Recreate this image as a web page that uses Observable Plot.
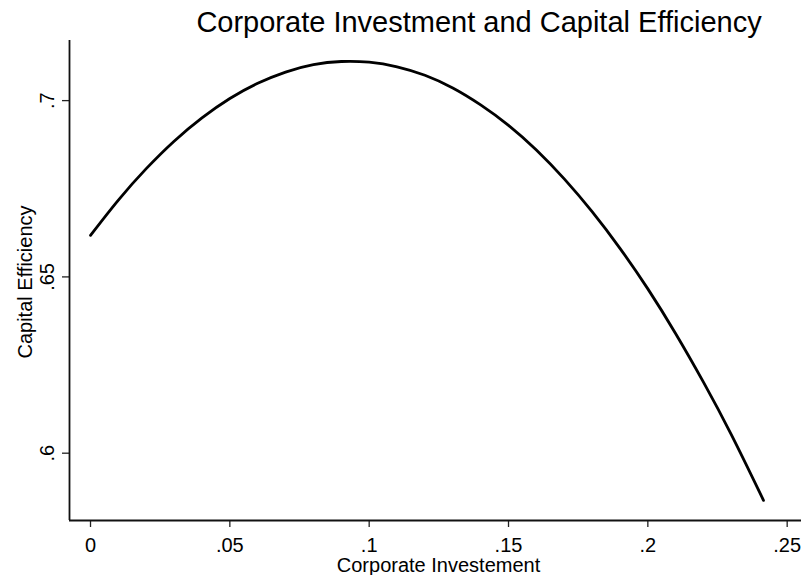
<!DOCTYPE html>
<html>
<head>
<meta charset="utf-8">
<script src="https://cdn.jsdelivr.net/npm/d3@7"></script>
<script src="https://cdn.jsdelivr.net/npm/@observablehq/plot@0.6"></script>
<style>
  html, body { margin: 0; padding: 0; background: #fff; }
  svg { display: block; }
</style>
</head>
<body>
<div id="chart"></div>
<script>
const chartTitle = "Corporate Investment and Capital Efficiency";
const xLabel = "Corporate Investement";
const yLabel = "Capital Efficiency";

// Values
const investment = [0, 0.01, 0.02, 0.03, 0.04, 0.05, 0.06, 0.07, 0.08, 0.09, 0.10, 0.11, 0.12,
  0.13, 0.14, 0.15, 0.16, 0.17, 0.18, 0.19, 0.20, 0.21, 0.22, 0.23, 0.24, 0.2412];
const efficiency = [0.6618, 0.6718, 0.6807, 0.6885, 0.6951, 0.7006, 0.7049, 0.7081, 0.7102, 0.7111,
  0.7109, 0.7096, 0.7072, 0.7036, 0.6988, 0.6930, 0.6860, 0.6778, 0.6685, 0.6581, 0.6466, 0.6339,
  0.6201, 0.6052, 0.5891, 0.5871];

const xTicks = [0, 0.05, 0.1, 0.15, 0.2, 0.25];
const yTicks = [0.6, 0.65, 0.7];

const data = investment.map((x, i) => ({x, y: efficiency[i]}));
const fmt = d => d === 0 ? "0" : String(d).replace(/^0/, "");

const xDomain = [-0.00754, 0.25514];
const yDomain = [0.58091, 0.71705];

const plot = Plot.plot({
  width: 801,
  height: 575,
  marginLeft: 69,
  marginRight: 0,
  marginTop: 40,
  marginBottom: 55,
  style: {fontFamily: "'Liberation Sans', Arial, Helvetica, sans-serif", fontSize: "20px", color: "#000", background: "#fff"},
  x: {domain: xDomain},
  y: {domain: yDomain},
  marks: [
    Plot.axisX({ticks: xTicks, tickFormat: fmt, tickSize: 7, tickPadding: 10, fontSize: 20, stroke: "#222", strokeWidth: 1.3, label: null}),
    Plot.axisY({ticks: yTicks, tickFormat: fmt, tickSize: 7, tickPadding: 9, tickRotate: -90, fontSize: 20, stroke: "#222", strokeWidth: 1.3, label: null}),
    Plot.ruleX([xDomain[0]], {stroke: "#111", strokeWidth: 1.8}),
    Plot.ruleY([yDomain[0]], {stroke: "#111", strokeWidth: 1.8}),
    Plot.line(data, {x: "x", y: "y", stroke: "#000", strokeWidth: 2.8, curve: "natural"}),
    Plot.text([chartTitle], {text: d => d, frameAnchor: "top", textAnchor: "middle", lineAnchor: "bottom", dx: 43.5, dy: -9, fontSize: 29, fill: "#000"}),
    Plot.text([xLabel], {text: d => d, frameAnchor: "bottom", textAnchor: "middle", lineAnchor: "bottom", dx: 3, dy: 51, fontSize: 20, fill: "#000"}),
    Plot.text([yLabel], {text: d => d, frameAnchor: "left", textAnchor: "middle", lineAnchor: "bottom", rotate: -90, dx: -38, dy: 1.5, fontSize: 20, fill: "#000"})
  ]
});
document.getElementById("chart").appendChild(plot);
</script>
</body>
</html>
